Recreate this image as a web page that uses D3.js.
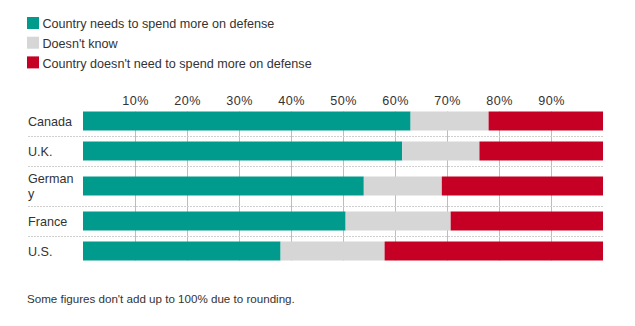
<!DOCTYPE html>
<html>
<head>
<meta charset="utf-8">
<script src="https://cdn.jsdelivr.net/npm/d3@7"></script>
<style>
  body { margin: 0; background: #fff; }
  svg text { font-family: Arial, "Liberation Sans", sans-serif; fill: #333; }
</style>
</head>
<body>
<div id="chart"></div>
<script>
const width = 635;
const height = 326;

// survey answers per country, in percent (some rows don't sum to 100)
const countries = ["Canada", "U.K.", "Germany", "France", "U.S."];
const labelLines = [["Canada"], ["U.K."], ["German", "y"], ["France"], ["U.S."]];
const needMore = [63, 62, 54, 50, 38];
const dontKnow = [15, 15, 15, 20, 20];
const noNeed = [22, 24, 31, 29, 42];
const ticks = [0.1, 0.2, 0.3, 0.4, 0.5, 0.6, 0.7, 0.8, 0.9];

const keys = ["need", "dk", "no"];
const legendLabels = ["Country needs to spend more on defense", "Doesn't know", "Country doesn't need to spend more on defense"];
const colors = ["#009b8c", "#d6d6d6", "#c60024"];

const rows = countries.map((c, i) => ({ name: c, lines: labelLines[i], need: needMore[i], dk: dontKnow[i], no: noNeed[i] }));

const svg = d3.select("#chart").append("svg")
  .attr("width", width)
  .attr("height", height);

// legend
const legend = svg.append("g");
legendLabels.forEach((l, i) => {
  const g = legend.append("g").attr("transform", `translate(27, ${17 + i * 19.7})`);
  g.append("rect").attr("width", 12).attr("height", 12).attr("fill", colors[i]);
  g.append("text").attr("x", 15.5).attr("y", 11.3).style("font-size", "12.6px").text(l);
});

// row layout: wrapped labels get a taller row
const rowTop = 106;
const barH = 19;
const rowH = rows.map(d => d.lines.length > 1 ? 40 : 30);
const rowY = [];
rowH.reduce((acc, h, i) => { rowY[i] = acc; return acc + h; }, rowTop);

const x = d3.scaleLinear().domain([0, 1]).range([83, 603]);

// stacked and normalised to 100%
const stack = d3.stack().keys(keys).offset(d3.stackOffsetExpand);
const series = stack(rows);

const firstBarY = rowY[0] + (rowH[0] - barH) / 2;
const lastBarY = rowY[rows.length - 1] + (rowH[rows.length - 1] - barH) / 2 + barH;

// vertical gridlines
svg.append("g")
  .selectAll("line")
  .data(ticks)
  .join("line")
  .attr("x1", d => x(d) + 0.5)
  .attr("x2", d => x(d) + 0.5)
  .attr("y1", firstBarY)
  .attr("y2", lastBarY)
  .attr("stroke", "#bdbdbd")
  .attr("stroke-width", 1);

// top axis labels
const axis = svg.append("g")
  .attr("transform", "translate(0, 104.5)")
  .call(d3.axisTop(x).tickValues(ticks).tickFormat(d3.format(".0%")).tickSize(0));
axis.select(".domain").remove();
axis.selectAll("text")
  .attr("y", 0)
  .attr("dy", 0)
  .style("font-size", "12.6px")
  .style("letter-spacing", "0.5px")
  .attr("fill", "#333");

// dotted separators between rows
svg.append("g")
  .selectAll("line")
  .data(rows.slice(0, -1))
  .join("line")
  .attr("x1", 28)
  .attr("x2", 603)
  .attr("y1", (d, i) => rowY[i] + rowH[i] + 0.5)
  .attr("y2", (d, i) => rowY[i] + rowH[i] + 0.5)
  .attr("stroke", "#cfcfcf")
  .attr("stroke-dasharray", "2,1");

// bars
svg.append("g")
  .selectAll("g")
  .data(series)
  .join("g")
  .attr("fill", (d, i) => colors[i])
  .selectAll("rect")
  .data(d => d)
  .join("rect")
  .attr("x", d => x(d[0]))
  .attr("width", d => x(d[1]) - x(d[0]))
  .attr("y", (d, i) => rowY[i] + (rowH[i] - barH) / 2)
  .attr("height", barH);

// country labels
const labels = svg.append("g")
  .selectAll("text")
  .data(rows)
  .join("text")
  .attr("x", 28)
  .style("font-size", "12.6px");
labels.each(function (d, i) {
  const center = rowY[i] + rowH[i] / 2;
  const lh = 15;
  const start = center + 4.5 - (d.lines.length - 1) * lh / 2;
  d3.select(this).selectAll("tspan")
    .data(d.lines)
    .join("tspan")
    .attr("x", 28)
    .attr("y", (l, j) => start + j * lh)
    .text(l => l);
});

// footnote
svg.append("text")
  .attr("x", 27)
  .attr("y", 302.5)
  .style("font-size", "11.6px")
  .text("Some figures don't add up to 100% due to rounding.");
</script>
</body>
</html>
